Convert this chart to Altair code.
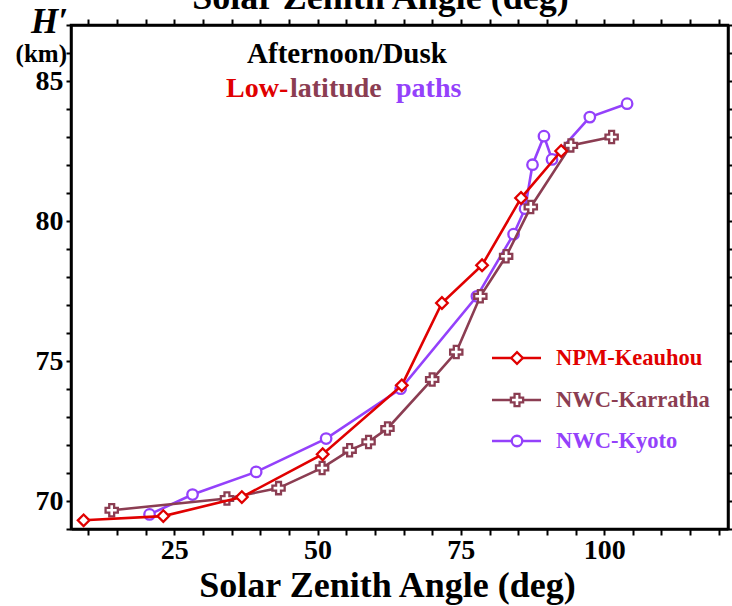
import altair as alt
import pandas as pd

# ---------------- data ----------------
series_names = ["NPM-Keauhou", "NWC-Karratha", "NWC-Kyoto"]
series_colors = ["#e00000", "#8b3d52", "#9441fb"]
series_shapes = ["diamond", "cross", "circle"]

keauhou_sza = [9.2, 23.1, 36.8, 50.9, 64.7, 71.7, 78.7, 85.5, 92.5]
keauhou_h = [69.31, 69.46, 70.14, 71.67, 74.13, 77.07, 78.42, 80.82, 82.5]

karratha_sza = [14.1, 34.2, 43.2, 50.8, 55.6, 58.9, 62.2, 70.0, 74.2, 78.4, 82.9, 87.2, 94.2, 101.3]
karratha_h = [69.67, 70.09, 70.46, 71.18, 71.81, 72.11, 72.59, 74.34, 75.32, 77.31, 78.74, 80.5, 82.7, 83.0]

kyoto_sza = [20.7, 28.2, 39.3, 51.5, 64.5, 77.8, 84.2, 86.2, 87.5, 89.5, 90.9, 97.5, 104.0]
kyoto_h = [69.52, 70.23, 71.04, 72.23, 74.01, 77.31, 79.53, 80.44, 82.01, 83.03, 82.2, 83.71, 84.19]

x_tick_values = list(range(10, 125, 5))
y_tick_values = list(range(69, 88))
x_title = "Solar Zenith Angle (deg)"

FONT = "Liberation Serif"

frames = {
    "NPM-Keauhou": pd.DataFrame({"sza": keauhou_sza, "h": keauhou_h, "series": "NPM-Keauhou"}),
    "NWC-Karratha": pd.DataFrame({"sza": karratha_sza, "h": karratha_h, "series": "NWC-Karratha"}),
    "NWC-Kyoto": pd.DataFrame({"sza": kyoto_sza, "h": kyoto_h, "series": "NWC-Kyoto"}),
}
all_df = pd.concat(list(frames.values()), ignore_index=True)

x_scale = alt.Scale(domain=[7, 121.6], nice=False, zero=False)
y_scale = alt.Scale(domain=[69, 87], nice=False, zero=False)

common_axis = dict(
    grid=False, domainColor="black", domainWidth=2.5, tickColor="black",
    tickWidth=2, labelFont=FONT, labelFontWeight="bold", labelColor="black",
    labelFontSize=28, labelOverlap=False, labelFlush=False,
)

x_bottom = alt.Axis(
    orient="bottom", values=x_tick_values, tickSize=6, labelPadding=1,
    labelExpr="datum.value % 25 == 0 ? datum.label : ''",
    title=x_title, titleFont=FONT, titleFontSize=36, titleFontWeight="bold",
    titleColor="black", titleX=316, titleY=67, titleBaseline="alphabetic",
    **common_axis,
)
x_top = alt.Axis(
    orient="top", values=x_tick_values, tickSize=6, labels=False,
    title=x_title, titleFont=FONT, titleFontSize=36, titleFontWeight="bold",
    titleColor="black", titleX=309, titleY=-17, titleBaseline="alphabetic",
    **common_axis,
)
y_left = alt.Axis(
    orient="left", values=y_tick_values, tickSize=5, labelPadding=3,
    labelExpr="datum.value % 5 == 0 ? datum.label : ''", title=None,
    **common_axis,
)
y_right = alt.Axis(
    orient="right", values=y_tick_values, tickSize=5, labels=False, title=None,
    **common_axis,
)

# axis carrier layers (invisible)
axis_layer1 = alt.Chart(all_df).mark_point(opacity=0).encode(
    x=alt.X("sza:Q", scale=x_scale, axis=x_bottom),
    y=alt.Y("h:Q", scale=y_scale, axis=y_left),
)
axis_layer2 = alt.Chart(all_df).mark_point(opacity=0).encode(
    x=alt.X("sza:Q", scale=x_scale, axis=x_top),
    y=alt.Y("h:Q", scale=y_scale, axis=y_right),
)

marker_sizes = {"diamond": 135, "cross": 150, "circle": 110}

layers = [axis_layer1, axis_layer2]
# draw order: Kyoto (bottom), Karratha, Keauhou (top)
for idx in [2, 1, 0]:
    name = series_names[idx]
    col = series_colors[idx]
    shp = series_shapes[idx]
    d = frames[name]
    enc = dict(
        x=alt.X("sza:Q", scale=x_scale, axis=None),
        y=alt.Y("h:Q", scale=y_scale, axis=None),
    )
    layers.append(alt.Chart(d).mark_line(color=col, strokeWidth=2.6).encode(**enc))
    layers.append(
        alt.Chart(d).mark_point(
            shape=shp, filled=True, fill="white", stroke=col, strokeWidth=2.3,
            size=marker_sizes[shp], opacity=1,
        ).encode(**enc)
    )

# legend (manual: line + marker + label)
legend_rows_y = [333, 375, 416]
for idx, name in enumerate(series_names):
    col = series_colors[idx]
    shp = series_shapes[idx]
    ld = pd.DataFrame({"series": [name]})
    yy = legend_rows_y[idx]
    layers.append(
        alt.Chart(ld).mark_rule(color=col, strokeWidth=2.6).encode(
            x=alt.value(421), x2=alt.value(470), y=alt.value(yy)
        )
    )
    layers.append(
        alt.Chart(ld).mark_point(
            shape=shp, filled=True, fill="white", stroke=col, strokeWidth=2.3,
            size=marker_sizes[shp], opacity=1,
        ).encode(x=alt.value(446), y=alt.value(yy))
    )
    layers.append(
        alt.Chart(ld).mark_text(
            font=FONT, fontSize=22.5, fontWeight="bold", color=col,
            align="left", baseline="middle",
        ).encode(x=alt.value(485), y=alt.value(yy), text="series:N")
    )

# annotations
def label(txt, x, y, color="black", size=28, align="left", baseline="alphabetic", style="normal"):
    return alt.Chart(pd.DataFrame({"t": [txt]})).mark_text(
        font=FONT, fontSize=size, fontWeight="bold", color=color, align=align,
        baseline=baseline, fontStyle=style,
    ).encode(x=alt.value(x), y=alt.value(y), text="t:N")

layers.append(label("Afternoon/Dusk", 276, 38, size=29, align="center"))
layers.append(label("Low-", 155, 72, color=series_colors[0]))
layers.append(label("latitude", 219, 72, color=series_colors[1]))
layers.append(label("paths", 325, 72, color=series_colors[2]))
layers.append(label("H\u2032", -3, 8, size=35, align="right", style="italic"))
layers.append(label("(km)", -4, 29, size=25, align="right", baseline="middle"))

chart = (
    alt.layer(*layers)
    .resolve_axis(x="independent", y="independent")
    .properties(
        width=657, height=504,
        autosize=alt.AutoSizeParams(type="none"),
        padding={"left": 71, "top": 25, "right": 4, "bottom": 77},
        background="white",
    )
    .configure_view(stroke="black", strokeWidth=2.5)
)

chart.save("out.html", embed_options={"renderer": "svg", "actions": False})
